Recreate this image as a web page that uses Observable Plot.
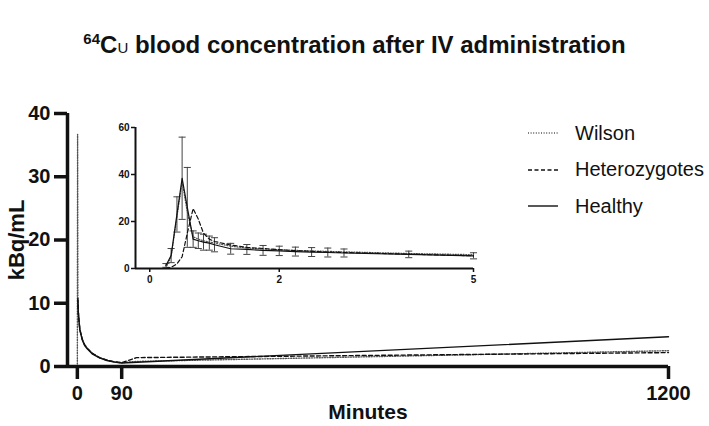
<!DOCTYPE html>
<html><head><meta charset="utf-8">
<script src="https://cdn.jsdelivr.net/npm/d3@7"></script>
<script src="https://cdn.jsdelivr.net/npm/@observablehq/plot@0.6"></script>
<style>
body{margin:0;background:#fff;}
#wrap{position:relative;width:709px;height:426px;font-family:"Liberation Sans",Arial,Helvetica,sans-serif;color:#111;overflow:hidden;}
#title{position:absolute;left:0;top:31px;width:709px;text-align:center;font-family:"Liberation Sans Narrow","Arial Narrow","Liberation Sans",sans-serif;font-weight:bold;font-size:24px;line-height:28px;}
#title sup{font-size:15px;vertical-align:9px;line-height:0;}
#title .sc{font-size:15px;font-weight:normal;}
#main{position:absolute;left:0;top:80px;}
#inset{position:absolute;left:100px;top:115px;}
#legend{position:absolute;left:528px;top:120px;font-size:20px;}
#legend .row{position:absolute;left:0;height:26px;display:flex;align-items:center;white-space:nowrap;}
#legend .row span{margin-left:17px;}
svg{overflow:visible;}
</style></head><body>
<div id="wrap">
  <div id="title"><sup>64</sup>C<span class="sc">U</span> blood concentration after IV administration</div>
  <div id="main"></div>
  <div id="inset"></div>
  <div id="legend"></div>
</div>
<script>
// ---------- data ----------
const seriesNames = ["Wilson", "Heterozygotes", "Healthy"];
const seriesDash = {Wilson: "1,1.6", Heterozygotes: "4,2.5", Healthy: null};
const seriesColor = {Wilson: "#555", Heterozygotes: "#111", Healthy: "#111"};

// main chart (minutes 0-1200)
const mainXDomain = [-20, 1200];
const mainYDomain = [0, 40];
const mainXTicks = [0, 90, 1200];
const mainYTicks = [0, 10, 20, 30, 40];

const wilsonMainT = [0, 0.5, 1, 2, 3, 5, 10, 15, 20, 30, 45, 60, 75, 90, 120, 1200];
const wilsonMainV = [0, 36.7, 10.8, 8.7, 7.6, 5.9, 4.3, 3.4, 2.9, 2.1, 1.4, 1.0, 0.75, 0.6, 0.8, 2.5];
const hetMainT = [1, 2, 3, 5, 10, 15, 20, 30, 45, 60, 75, 90, 120, 1200];
const hetMainV = [10.8, 8.6, 7.5, 5.9, 4.3, 3.4, 2.9, 2.1, 1.4, 1.0, 0.75, 0.6, 1.4, 2.2];
const healthyMainT = [1, 2, 3, 5, 10, 15, 20, 30, 45, 60, 75, 90, 1200];
const healthyMainV = [10.5, 8.5, 7.5, 5.8, 4.2, 3.3, 2.8, 2.0, 1.35, 0.95, 0.7, 0.55, 4.7];

// inset (minutes 0-5)
const insetXDomain = [-0.22, 5];
const insetYDomain = [0, 60];
const insetXTicks = [0, 2, 5];
const insetYTicks = [0, 20, 40, 60];
const insetT = [0.25, 0.33, 0.42, 0.5, 0.58, 0.67, 0.75, 0.83, 0.92, 1, 1.25, 1.5, 1.75, 2, 2.25, 2.5, 2.75, 3, 4, 5];
const wilsonInset  = [0.3, 5, 22, 37, 24, 13.5, 12.5, 11.8, 11.3, 10.8, 9.5, 8.7, 8.3, 8, 7.7, 7.5, 7.3, 7.1, 6.4, 5.9];
const hetInset     = [0, 0.5, 2, 5, 15, 25.5, 21, 15, 12.5, 11.5, 10, 9, 8.5, 8, 7.6, 7.3, 7, 6.8, 6.1, 5.4];
const healthyInset = [1.3, 5.5, 23, 38.4, 26, 12.5, 11.8, 11.2, 10.8, 10.1, 8.4, 8.1, 7.7, 7.5, 7.2, 7, 6.8, 6.6, 6, 5.4];
const healthySD    = [0.8, 3, 7.5, 17.5, 17, 3.5, 3.3, 3.4, 3, 3, 2.3, 2.1, 2.1, 2, 1.9, 1.9, 1.9, 1.7, 1.4, 1.3];

// ---------- build tables ----------
const mk = (name, T, V) => T.map((t, i) => ({series: name, t, v: V[i]}));
const mainData = {
  Wilson: mk("Wilson", wilsonMainT, wilsonMainV),
  Heterozygotes: mk("Heterozygotes", hetMainT, hetMainV),
  Healthy: mk("Healthy", healthyMainT, healthyMainV)
};
const insetData = {
  Wilson: mk("Wilson", insetT, wilsonInset),
  Heterozygotes: mk("Heterozygotes", insetT, hetInset),
  Healthy: mk("Healthy", insetT, healthyInset)
};
const errData = insetT.map((t, i) => ({t, lo: healthyInset[i] - healthySD[i], hi: healthyInset[i] + healthySD[i]}));

const capSymbol = {draw(ctx, size) { const w = Math.sqrt(size); ctx.moveTo(-w, 0); ctx.lineTo(w, 0); }};
const plain = d => String(d);

const lineMarks = (dataObj, sw) => seriesNames.map(n => Plot.line(dataObj[n], {
  x: "t", y: "v", stroke: seriesColor[n], strokeWidth: sw,
  strokeDasharray: seriesDash[n] || undefined
}));

// ---------- main chart ----------
const main = Plot.plot({
  width: 709, height: 346,
  marginLeft: 67, marginRight: 41, marginTop: 33, marginBottom: 60,
  style: {fontFamily: "'Liberation Sans', Arial, sans-serif", background: "transparent", color: "#111"},
  x: {domain: mainXDomain},
  y: {domain: mainYDomain},
  marks: [
    Plot.axisX({ticks: mainXTicks, tickFormat: plain, tickSize: 13, tickPadding: 6, strokeWidth: 3.5, fontSize: 20, fontWeight: "bold", label: null}),
    Plot.axisY({ticks: mainYTicks, tickFormat: plain, tickSize: 13, tickPadding: 4, strokeWidth: 3.5, fontSize: 20, fontWeight: "bold", label: null}),
    ...lineMarks(mainData, 1.4),
    Plot.ruleY([mainYDomain[0]], {x1: mainXDomain[0], x2: mainXDomain[1], stroke: "#111", strokeWidth: 3.5}),
    Plot.ruleX([mainXDomain[0]], {y1: mainYDomain[0], y2: mainYDomain[1], stroke: "#111", strokeWidth: 3.5}),
    Plot.text(["Minutes"], {frameAnchor: "bottom", dy: 46, fontSize: 21, fontWeight: "bold", lineAnchor: "middle"}),
    Plot.text(["kBq/mL"], {frameAnchor: "left", dx: -51, rotate: -90, fontSize: 22, fontWeight: "bold", textAnchor: "middle", lineAnchor: "middle"})
  ]
});
document.getElementById("main").appendChild(main);

// ---------- inset ----------
const inset = Plot.plot({
  width: 390, height: 180,
  marginLeft: 35, marginRight: 17, marginTop: 12, marginBottom: 27,
  style: {fontFamily: "'Liberation Sans', Arial, sans-serif", background: "transparent", color: "#111"},
  x: {domain: insetXDomain},
  y: {domain: insetYDomain},
  marks: [
    Plot.axisX({ticks: insetXTicks, tickFormat: plain, tickSize: 4, tickPadding: 3, strokeWidth: 1.5, fontSize: 10, fontWeight: "bold", label: null}),
    Plot.axisY({ticks: insetYTicks, tickFormat: plain, tickSize: 4, tickPadding: 2, strokeWidth: 1.5, fontSize: 10, fontWeight: "bold", label: null}),
    Plot.ruleX(errData, {x: "t", y1: "lo", y2: "hi", stroke: "#444", strokeWidth: 1}),
    Plot.dot(errData, {x: "t", y: "lo", symbol: capSymbol, r: 2, stroke: "#444", strokeWidth: 1}),
    Plot.dot(errData, {x: "t", y: "hi", symbol: capSymbol, r: 2, stroke: "#444", strokeWidth: 1}),
    ...lineMarks(insetData, 1.2),
    Plot.ruleY([insetYDomain[0]], {x1: insetXDomain[0], x2: insetXDomain[1], stroke: "#111", strokeWidth: 2}),
    Plot.ruleX([insetXDomain[0]], {y1: insetYDomain[0], y2: insetYDomain[1], stroke: "#111", strokeWidth: 2})
  ]
});
document.getElementById("inset").appendChild(inset);

// ---------- legend ----------
const legend = document.getElementById("legend");
seriesNames.forEach((n, i) => {
  const row = document.createElement("div");
  row.className = "row";
  row.style.top = (i * 36.5) + "px";
  const dash = seriesDash[n] ? `stroke-dasharray="${seriesDash[n]}"` : "";
  row.innerHTML = `<svg width="30" height="4"><line x1="0" y1="2" x2="30" y2="2" stroke="${seriesColor[n]}" stroke-width="1.4" ${dash}/></svg><span>${n}</span>`;
  legend.appendChild(row);
});
</script>
</body></html>
